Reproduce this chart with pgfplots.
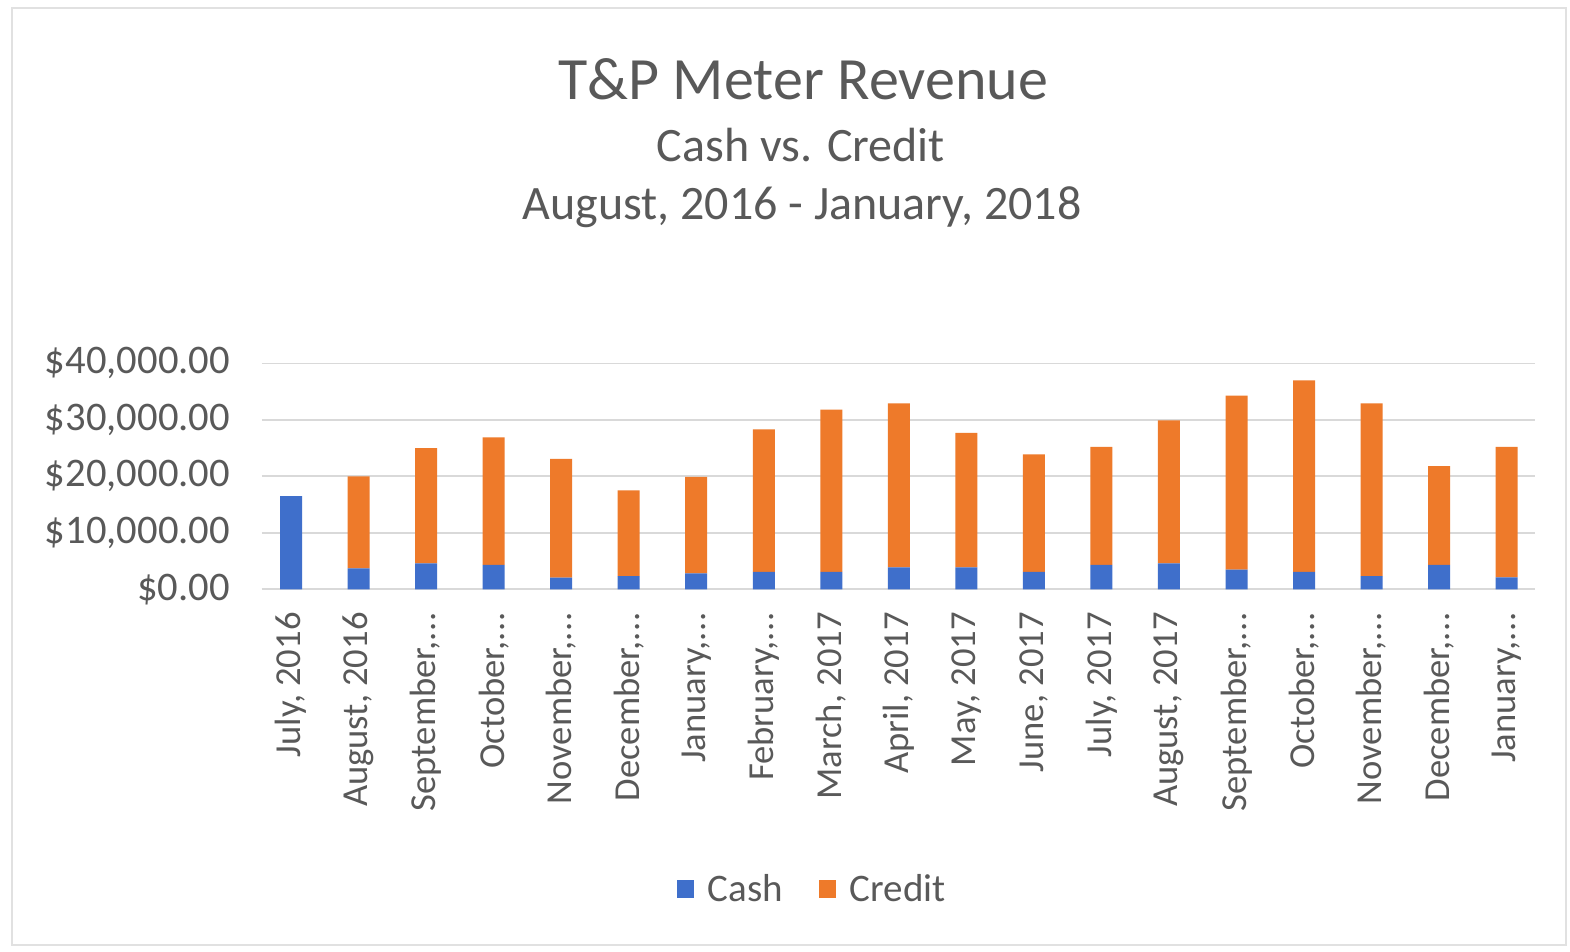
\documentclass[border=0pt]{standalone}
\usepackage{pgfplots}
\pgfplotsset{compat=1.18}
\usepackage{fontspec}
\setmainfont{Carlito}
\definecolor{txt}{HTML}{595959}
\definecolor{gridc}{HTML}{D9D9D9}
\definecolor{cashc}{HTML}{3F6FCB}
\definecolor{credc}{HTML}{EE7A2A}
\newcommand{\dd}{.\kern0.02em.\kern0.02em.}
\begin{document}
\begin{tikzpicture}
\path[use as bounding box, fill=white] (0,0) rectangle (785pt,476pt);
\draw[color=gridc!80, line width=1.2pt] (6pt,3.5pt) rectangle (783pt,472pt);
\node[anchor=base, text=txt, font=\fontsize{30}{34}\selectfont] at (401.5pt,426pt) {T\&P Meter Revenue};
\node[anchor=base, text=txt, font=\fontsize{24}{27}\selectfont] at (400.5pt,395pt) {Cash vs. Credit};
\node[anchor=base, text=txt, font=\fontsize{24}{27}\selectfont] at (401pt,366pt) {August, 2016 - January, 2018};
\begin{axis}[
  at={(131pt,181.35pt)}, anchor=south west,
  scale only axis, width=636.5pt, height=113pt,
  ybar stacked, bar width=11pt,
  xmin=-0.43, xmax=18.42, ymin=0, ymax=40000,
  enlarge y limits=false, scaled y ticks=false,
  axis x line*=bottom, axis y line*=left,
  x axis line style={draw=gridc, line width=0.9pt, -},
  y axis line style={draw=none},
  ymajorgrids, grid style={draw=gridc, line width=0.8pt},
  major tick length=0pt,
  xtick={0,...,18},
  xticklabels={{July, 2016},{August, 2016},{September,\dd},{October,\dd},{November,\dd},{December,\dd},{January,\dd},{February,\dd},{March, 2017},{April, 2017},{May, 2017},{June, 2017},{July, 2017},{August, 2017},{September,\dd},{October,\dd},{November,\dd},{December,\dd},{January,\dd}},
  ytick={0,10000,20000,30000,40000},
  yticklabels={{\$0.00},{\$10,000.00},{\$20,000.00},{\$30,000.00},{\$40,000.00}},
  xticklabel style={rotate=90, anchor=east, text=txt, font=\fontsize{18.3}{22}\selectfont, xshift=-8pt},
  yticklabel style={text=txt, font=\fontsize{20.3}{22}\selectfont, xshift=-12.5pt},
  legend style={at={(0.433,-1.33)}, anchor=center, legend columns=2, draw=none, fill=none,
    font=\fontsize{19.5}{22}\selectfont, text=txt,
    /tikz/every odd column/.append style={column sep=5pt},
    /tikz/every even column/.append style={column sep=16pt}},
]
\addplot[fill=cashc, draw=none, legend image code/.code={\fill[cashc] (0pt,-4pt) rectangle (8.5pt,5pt);}] coordinates {
(0,16500) (1,3700) (2,4600) (3,4300) (4,2050) (5,2350) (6,2800) (7,3100) (8,3100) (9,3900)
(10,3900) (11,3100) (12,4300) (13,4600) (14,3500) (15,3100) (16,2350) (17,4300) (18,2100)};
\addlegendentry{Cash}
\addplot[fill=credc, draw=none, legend image code/.code={\fill[credc] (0pt,-4pt) rectangle (8.5pt,5pt);}] coordinates {
(0,0) (1,16300) (2,20400) (3,22600) (4,21050) (5,15150) (6,17100) (7,25200) (8,28700) (9,29000)
(10,23800) (11,20800) (12,20900) (13,25300) (14,30800) (15,33900) (16,30550) (17,17500) (18,23100)};
\addlegendentry{Credit}
\end{axis}
\end{tikzpicture}
\end{document}
